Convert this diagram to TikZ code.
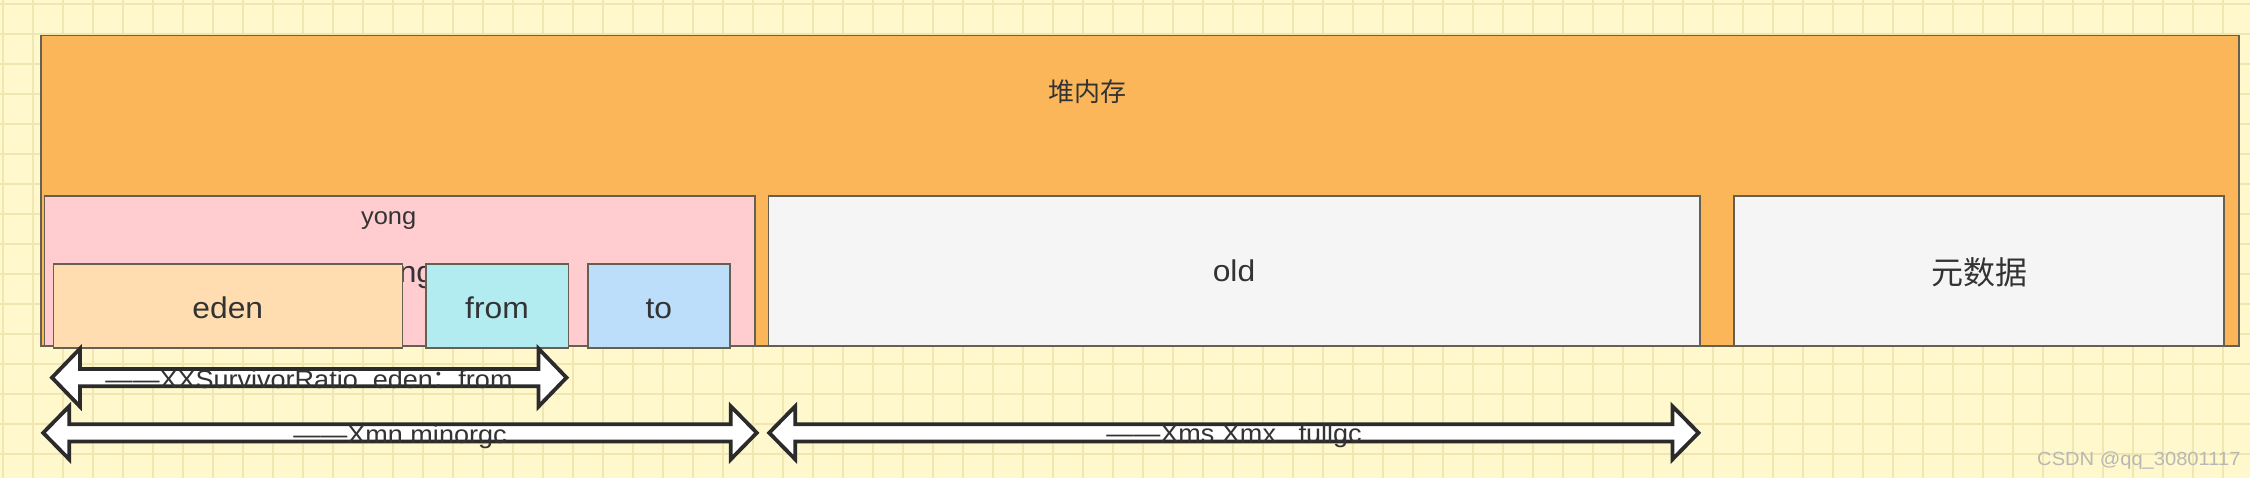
\documentclass[tikz,border=0pt]{standalone}
\usepackage{fontspec}
\setmainfont{Liberation Sans}[FakeStretch=1.06]
\newfontfamily\cjk{Noto Sans CJK SC}
\newcommand\fsz[1]{\fontsize{#1}{#1}\selectfont}
\definecolor{bgc}{RGB}{255,248,204}
\definecolor{gridc}{RGB}{240,230,178}
\definecolor{heapc}{RGB}{252,182,90}
\definecolor{strokec}{RGB}{102,96,82}
\definecolor{yongc}{RGB}{255,204,208}
\definecolor{edenc}{RGB}{255,221,176}
\definecolor{fromc}{RGB}{178,235,240}
\definecolor{toc}{RGB}{189,222,250}
\definecolor{oldc}{RGB}{245,245,245}
\definecolor{txtc}{RGB}{51,51,51}
\definecolor{arrc}{RGB}{43,43,43}
\definecolor{wmc}{RGB}{184,184,178}
\tikzset{
  gridline/.style={draw=gridc, line width=1.5pt},
  region/.style={draw=strokec, line width=1.6pt, inner sep=0pt, outer sep=0pt, anchor=north west},
  lbl/.style={inner sep=0pt, anchor=base, text=txtc},
  arrowbody/.style={draw=arrc, fill=white, line width=3.8pt, line join=miter},
}
\newcommand\dblarr[6]{% x1, x2, yc, headlen, headhalf, shafthalf
  \path[arrowbody] (#1,#3) -- ({#1+#4},{#3-#5}) -- ({#1+#4},{#3-#6}) -- ({#2-#4},{#3-#6})
    -- ({#2-#4},{#3-#5}) -- (#2,#3) -- ({#2-#4},{#3+#5}) -- ({#2-#4},{#3+#6})
    -- ({#1+#4},{#3+#6}) -- ({#1+#4},{#3+#5}) -- cycle;}
\begin{document}
\begin{tikzpicture}[x=1pt, y=-1pt]
\useasboundingbox (0,0) rectangle (2250,478);
\fill[bgc] (0,0) rectangle (2250,478);
\foreach \gx in {3,33,...,2250} \draw[gridline] (\gx,0) -- (\gx,478);
\foreach \gy in {4,34,...,478} \draw[gridline] (0,\gy) -- (2250,\gy);

% heap
\node[region, fill=heapc, minimum width=2198pt, minimum height=310.5pt] (heap) at (40.7,35.5) {};
\node[lbl] (heaplbl) at (1087,102) {\cjk\fsz{26}堆内存};

% young generation
\node[region, fill=yongc, minimum width=710.7pt, minimum height=150pt] (yong) at (44.3,196) {};
\node[lbl] (yongbig) at (399.7,283) {\fsz{30}yong};
\node[lbl] (yonglbl) at (388.7,225) {\fsz{24}yong};

\node[region, fill=edenc, minimum width=349pt, minimum height=83.7pt] (eden) at (53.3,264) {};
\node[region, fill=fromc, minimum width=142.6pt, minimum height=83.7pt] (from) at (425.7,264) {};
\node[region, fill=toc, minimum width=142.3pt, minimum height=83.7pt] (to) at (587.7,264) {};
\node[lbl] (edenlbl) at (227.8,318.3) {\fsz{30}eden};
\node[lbl] (fromlbl) at (497,318.3) {\fsz{30}from};
\node[lbl] (tolbl) at (658.8,318.3) {\fsz{30}to};

% old and metadata
\node[region, fill=oldc, minimum width=931.7pt, minimum height=150pt] (old) at (768.3,196) {};
\node[lbl] (oldlbl) at (1234,281.5) {\fsz{30}old};
\node[region, fill=oldc, minimum width=490pt, minimum height=150pt] (meta) at (1734,196) {};
\node[lbl] (metalbl) at (1979,284) {\cjk\fsz{32}元数据};

% arrows
\dblarr{52}{566.5}{377.6}{28}{29}{8.6}
\dblarr{43.2}{756.8}{432.8}{26}{26.5}{8.6}
\dblarr{769.2}{1698.5}{432.8}{26}{26.5}{8.6}
\node[lbl] (ratiolbl) at (309,388.5) {\fsz{25.5}——XXSurvivorRatio\ \ eden{\cjk ：}from};
\node[lbl] (xmnlbl) at (400,443.5) {\fsz{25.5}——Xmn minorgc};
\node[lbl] (xmslbl) at (1234,442.5) {\fsz{25.5}——Xms Xmx\ \ \ fullgc};

% watermark
\node[inner sep=0pt, anchor=base west, text=wmc] (wm) at (2037,465) {\fsz{19}CSDN @qq\_30801117};
\end{tikzpicture}
\end{document}
